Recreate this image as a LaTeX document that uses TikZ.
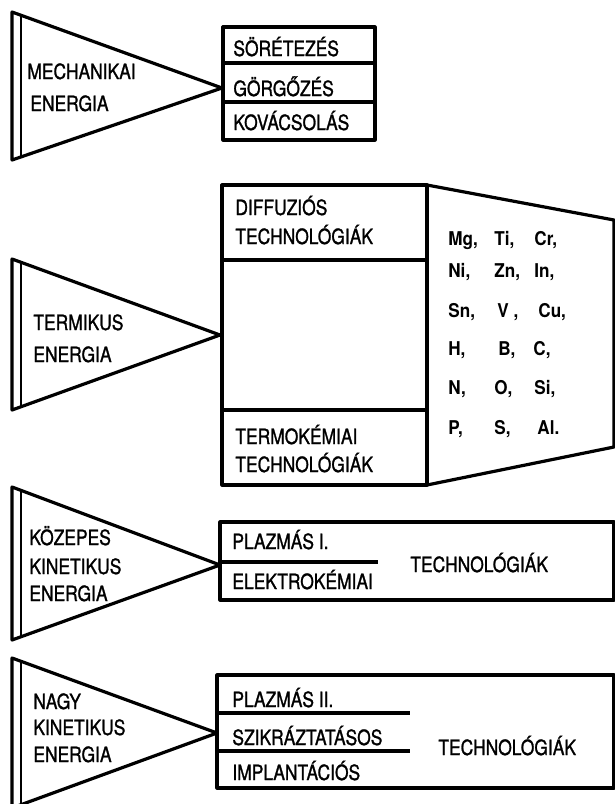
\documentclass[tikz,border=0pt]{standalone}
\usepackage{fontspec}
\setmainfont{TeX Gyre Heros}
\newfontfamily\lettering[FakeBold=1.2,FakeStretch=0.83]{TeX Gyre Heros}
\newfontfamily\elemfont[FakeStretch=0.9]{TeX Gyre Heros}
\begin{document}
\begin{tikzpicture}[x=0.5pt,y=-0.5pt,
  lbl/.style={anchor=base west,inner sep=0pt,font=\lettering\fontsize{10.5}{11}\selectfont},
  elem/.style={anchor=base west,inner sep=0pt,font=\elemfont\bfseries\fontsize{9.5}{10}\selectfont},
  outline/.style={line width=1.6pt,line join=round},
  innerline/.style={line width=1.1pt}]

\useasboundingbox (0,0) rectangle (615,804);

% Dreiecke (Energiearten)
\draw[outline] (12,12) -- (222,88) -- (12,160) -- cycle;
\draw[innerline] (21,15) -- (21,157);

\draw[outline] (12,259) -- (220,335) -- (12,410) -- cycle;
\draw[innerline] (21,262) -- (21,407);

\draw[outline] (12,487) -- (220,565) -- (12,640) -- cycle;
\draw[innerline] (21,490) -- (21,637);

\draw[outline] (12,658) -- (217,733) -- (12,808) -- cycle;
\draw[innerline] (21,661) -- (21,805);

% Kaesten
\draw[outline] (223,27) rectangle (375,140);
\draw[outline] (223,63) -- (375,63);
\draw[outline] (223,102) -- (375,102);

\draw[outline] (222,185) rectangle (427,485);
\draw[outline] (222,260) -- (427,260);
\draw[outline] (222,410) -- (427,410);
\draw[outline] (427,185) -- (614,220) -- (614,447) -- (427,485);

\draw[outline] (220,522) rectangle (614,600);
\draw[outline] (220,562) -- (378,562);

\draw[outline] (217,675) rectangle (614,788);
\draw[outline] (217,713) -- (410,713);
\draw[outline] (217,751) -- (410,751);

% Beschriftungen der Dreiecke
\node[lbl] (mech1) at (27,79) {MECHANIKAI};
\node[lbl] (mech2) at (30,111) {ENERGIA};
\node[lbl] (term1) at (33,330) {TERMIKUS};
\node[lbl] (term2) at (33,362) {ENERGIA};
\node[lbl] (koz1) at (29,545) {KÖZEPES};
\node[lbl] (koz2) at (29,574) {KINETIKUS};
\node[lbl] (koz3) at (29,601) {ENERGIA};
\node[lbl] (nagy1) at (33,709) {NAGY};
\node[lbl] (nagy2) at (33,735) {KINETIKUS};
\node[lbl] (nagy3) at (33,762) {ENERGIA};

% Beschriftungen der Kaesten
\node[lbl] (soret) at (233,56) {SÖRÉTEZÉS};
\node[lbl] (gorgo) at (233,96) {GÖRGŐZÉS};
\node[lbl] (kovacs) at (233,130) {KOVÁCSOLÁS};

\node[lbl] (diff1) at (235,215) {DIFFUZIÓS};
\node[lbl] (diff2) at (235,244) {TECHNOLÓGIÁK};
\node[lbl] (termo1) at (235,444) {TERMOKÉMIAI};
\node[lbl] (termo2) at (235,472) {TECHNOLÓGIÁK};

\node[lbl] (plazma1) at (232,549) {PLAZMÁS I.};
\node[lbl] (elektro) at (232,589) {ELEKTROKÉMIAI};
\node[lbl] (techn3) at (410,572) {TECHNOLÓGIÁK};

\node[lbl] (plazma2) at (232,707) {PLAZMÁS II.};
\node[lbl] (szikra) at (232,745) {SZIKRÁZTATÁSOS};
\node[lbl] (implant) at (232,780) {IMPLANTÁCIÓS};
\node[lbl] (techn4) at (438,755) {TECHNOLÓGIÁK};

% Elemente
\node[elem] (mg) at (448,245) {Mg,};
\node[elem] (ti) at (494,245) {Ti,};
\node[elem] (cr) at (534,245) {Cr,};
\node[elem] (ni) at (448,277) {Ni,};
\node[elem] (zn) at (494,277) {Zn,};
\node[elem] (in) at (534,277) {In,};
\node[elem] (sn) at (448,317) {Sn,};
\node[elem] (v) at (497,317) {V ,};
\node[elem] (cu) at (538,317) {Cu,};
\node[elem] (h) at (448,355) {H,};
\node[elem] (b) at (498,355) {B,};
\node[elem] (c) at (533,355) {C,};
\node[elem] (n) at (448,394) {N,};
\node[elem] (o) at (494,394) {O,};
\node[elem] (si) at (534,394) {Si,};
\node[elem] (p) at (448,434) {P,};
\node[elem] (s) at (494,434) {S,};
\node[elem] (al) at (537,434) {Al.};

\end{tikzpicture}
\end{document}
